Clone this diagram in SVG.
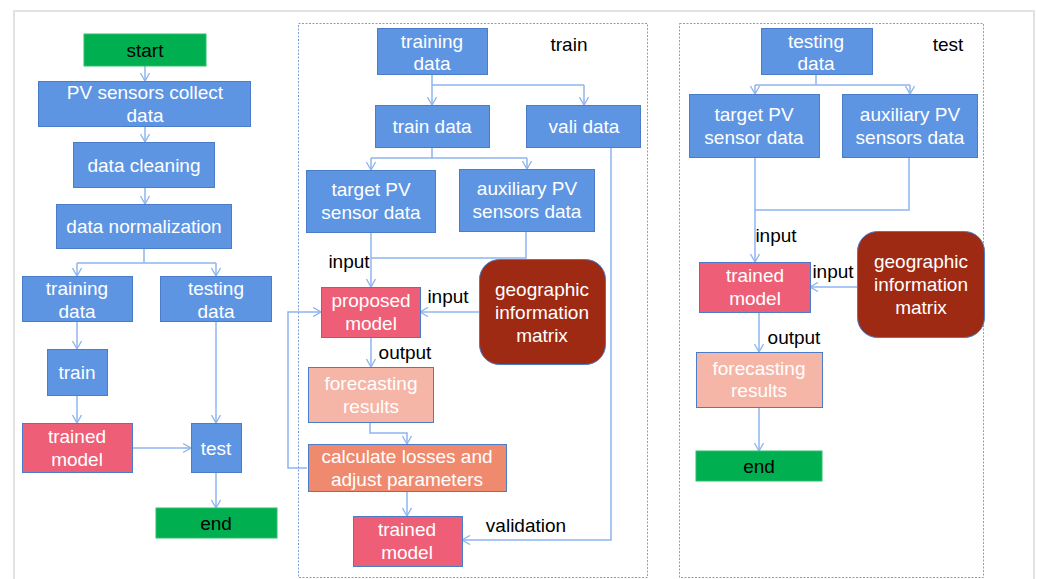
<svg xmlns="http://www.w3.org/2000/svg" width="1037" height="579" viewBox="0 0 1037 579">
<defs>
<marker id="ah" viewBox="0 0 10 10" refX="9" refY="5" markerWidth="10" markerHeight="10" markerUnits="userSpaceOnUse" orient="auto">
<path d="M1,0.5 L9,5 L1,9.5" fill="none" stroke="#8fb4ef" stroke-width="1.3"/>
</marker>
<style>
text{font-family:"Liberation Sans",Arial,sans-serif;font-size:19px;text-anchor:middle}
.b{fill:#5e95e3;stroke:#4a7cc8;stroke-width:1}
.g{fill:#00b050;stroke:#2fc06a;stroke-width:1}
.p{fill:#ee5f77;stroke:#4a7cc8;stroke-width:1}
.f{fill:#f5b6a7;stroke:#4a7cc8;stroke-width:1}
.c{fill:#f08a6f;stroke:#4a7cc8;stroke-width:1}
.m{fill:#9e2a13;stroke:#4a7cc8;stroke-width:1}
.w{fill:#ffffff}
.k{fill:#000000}
.ln{fill:none;stroke:#8fb4ef;stroke-width:1.5}
.panel{fill:none;stroke:#7f9fd6;stroke-width:1;stroke-dasharray:2,1.5}
</style>
</defs>
<rect x="0" y="0" width="1037" height="579" fill="#ffffff"/>
<rect x="14" y="11" width="1020" height="580" fill="none" stroke="#e2e2e2" stroke-width="2"/>
<rect class="panel" x="298.5" y="23.5" width="349" height="554"/>
<rect class="panel" x="679.5" y="23.5" width="304" height="554"/>

<g id="connectors">
<path class="ln" d="M145,66 V81" marker-end="url(#ah)"/>
<path class="ln" d="M145,127 V142" marker-end="url(#ah)"/>
<path class="ln" d="M145,188 V204" marker-end="url(#ah)"/>
<path class="ln" d="M144,249 V263 M77,263 H216"/>
<path class="ln" d="M77,263 V276" marker-end="url(#ah)"/>
<path class="ln" d="M216,263 V276" marker-end="url(#ah)"/>
<path class="ln" d="M77,322 V349" marker-end="url(#ah)"/>
<path class="ln" d="M77,396 V423" marker-end="url(#ah)"/>
<path class="ln" d="M216,322 V423" marker-end="url(#ah)"/>
<path class="ln" d="M132,448 H191" marker-end="url(#ah)"/>
<path class="ln" d="M216,473 V508" marker-end="url(#ah)"/>

<path class="ln" d="M432,75 V85 M432,85 H584"/>
<path class="ln" d="M432,85 V105" marker-end="url(#ah)"/>
<path class="ln" d="M584,85 V105" marker-end="url(#ah)"/>
<path class="ln" d="M432,147 V158 M371,158 H527"/>
<path class="ln" d="M371,158 V170" marker-end="url(#ah)"/>
<path class="ln" d="M527,158 V169" marker-end="url(#ah)"/>
<path class="ln" d="M371,232 V287" marker-end="url(#ah)"/>
<path class="ln" d="M526,232 V258 H371"/>
<path class="ln" d="M479,312 H420" marker-end="url(#ah)"/>
<path class="ln" d="M307,468 H288 V312 H321" marker-end="url(#ah)"/>
<path class="ln" d="M371,337 V367" marker-end="url(#ah)"/>
<path class="ln" d="M370,422 V433 H407 V444" marker-end="url(#ah)"/>
<path class="ln" d="M407,492 V516" marker-end="url(#ah)"/>
<path class="ln" d="M611,147 V540 H462" marker-end="url(#ah)"/>

<path class="ln" d="M816,75 V85 M755,85 H910"/>
<path class="ln" d="M755,85 V94" marker-end="url(#ah)"/>
<path class="ln" d="M910,85 V94" marker-end="url(#ah)"/>
<path class="ln" d="M755,157 V262" marker-end="url(#ah)"/>
<path class="ln" d="M909,157 V210 H755"/>
<path class="ln" d="M857,287 H810" marker-end="url(#ah)"/>
<path class="ln" d="M759,312 V352" marker-end="url(#ah)"/>
<path class="ln" d="M759,407 V451" marker-end="url(#ah)"/>
</g>

<g id="labels">
<text class="k" x="569" y="51">train</text>
<text class="k" x="948" y="51">test</text>
<text class="k" x="349" y="268">input</text>
<text class="k" x="448" y="303">input</text>
<text class="k" x="405" y="359">output</text>
<text class="k" x="526" y="532">validation</text>
<text class="k" x="776" y="242">input</text>
<text class="k" x="833" y="278">input</text>
<text class="k" x="794" y="344">output</text>
</g>

<g id="start"><rect class="g" x="84" y="34" width="122" height="32"/><text class="k" x="145" y="57">start</text></g>
<g id="pv-collect"><rect class="b" x="38.5" y="81.5" width="212" height="45"/><text class="w" x="145" y="99">PV sensors collect</text><text class="w" x="145" y="122">data</text></g>
<g id="data-cleaning"><rect class="b" x="73.5" y="142.5" width="141" height="45"/><text class="w" x="144" y="172">data cleaning</text></g>
<g id="data-normalization"><rect class="b" x="56.5" y="204.5" width="175" height="44"/><text class="w" x="144" y="233">data normalization</text></g>
<g id="training-data-1"><rect class="b" x="22.5" y="276.5" width="110" height="45"/><text class="w" x="77" y="295">training</text><text class="w" x="77" y="318">data</text></g>
<g id="testing-data-1"><rect class="b" x="160.5" y="276.5" width="111" height="45"/><text class="w" x="216" y="295">testing</text><text class="w" x="216" y="318">data</text></g>
<g id="train"><rect class="b" x="47.5" y="349.5" width="60" height="46"/><text class="w" x="77" y="379">train</text></g>
<g id="trained-model-1"><rect class="p" x="22.5" y="423.5" width="110" height="49"/><text class="w" x="77" y="443">trained</text><text class="w" x="77" y="466">model</text></g>
<g id="test"><rect class="b" x="191.5" y="423.5" width="50" height="49"/><text class="w" x="216" y="455">test</text></g>
<g id="end-1"><rect class="g" x="156" y="508" width="121" height="30"/><text class="k" x="216" y="530">end</text></g>

<g id="training-data-2"><rect class="b" x="377.5" y="28.5" width="110" height="46"/><text class="w" x="432" y="48">training</text><text class="w" x="432" y="70">data</text></g>
<g id="train-data"><rect class="b" x="375.5" y="105.5" width="114" height="42"/><text class="w" x="432" y="133">train data</text></g>
<g id="vali-data"><rect class="b" x="526.5" y="105.5" width="114" height="42"/><text class="w" x="584" y="133">vali data</text></g>
<g id="target-2"><rect class="b" x="306.5" y="170.5" width="129" height="62"/><text class="w" x="371" y="196">target PV</text><text class="w" x="371" y="219">sensor data</text></g>
<g id="aux-2"><rect class="b" x="459.5" y="169.5" width="135" height="62"/><text class="w" x="527" y="195">auxiliary PV</text><text class="w" x="527" y="218">sensors data</text></g>
<g id="geo-2"><rect class="m" x="479.5" y="259.5" width="126" height="105" rx="20" ry="20"/><text class="w" x="542" y="296">geographic</text><text class="w" x="542" y="319">information</text><text class="w" x="542" y="342">matrix</text></g>
<g id="proposed-model"><rect class="p" x="321.5" y="287.5" width="99" height="50"/><text class="w" x="371" y="307">proposed</text><text class="w" x="371" y="330">model</text></g>
<g id="forecast-2"><rect class="f" x="308.5" y="367.5" width="125" height="55"/><text class="w" x="371" y="390">forecasting</text><text class="w" x="371" y="413">results</text></g>
<g id="calc-losses"><rect class="c" x="308.5" y="444.5" width="198" height="47"/><text class="w" x="407" y="463">calculate losses and</text><text class="w" x="407" y="486">adjust parameters</text></g>
<g id="trained-model-2"><rect class="p" x="353.5" y="516.5" width="109" height="50"/><text class="w" x="407" y="536">trained</text><text class="w" x="407" y="559">model</text></g>

<g id="testing-data-3"><rect class="b" x="761.5" y="28.5" width="111" height="46"/><text class="w" x="816" y="48">testing</text><text class="w" x="816" y="70">data</text></g>
<g id="target-3"><rect class="b" x="689.5" y="94.5" width="130" height="63"/><text class="w" x="754" y="121">target PV</text><text class="w" x="754" y="144">sensor data</text></g>
<g id="aux-3"><rect class="b" x="842.5" y="94.5" width="135" height="63"/><text class="w" x="910" y="121">auxiliary PV</text><text class="w" x="910" y="144">sensors data</text></g>
<g id="geo-3"><rect class="m" x="857.5" y="231.5" width="127" height="106" rx="20" ry="20"/><text class="w" x="921" y="268">geographic</text><text class="w" x="921" y="291">information</text><text class="w" x="921" y="314">matrix</text></g>
<g id="trained-model-3"><rect class="p" x="699.5" y="262.5" width="111" height="50"/><text class="w" x="755" y="282">trained</text><text class="w" x="755" y="305">model</text></g>
<g id="forecast-3"><rect class="f" x="696.5" y="352.5" width="126" height="55"/><text class="w" x="759" y="375">forecasting</text><text class="w" x="759" y="397">results</text></g>
<g id="end-3"><rect class="g" x="696" y="451" width="126" height="30"/><text class="k" x="759" y="473">end</text></g>
</svg>
